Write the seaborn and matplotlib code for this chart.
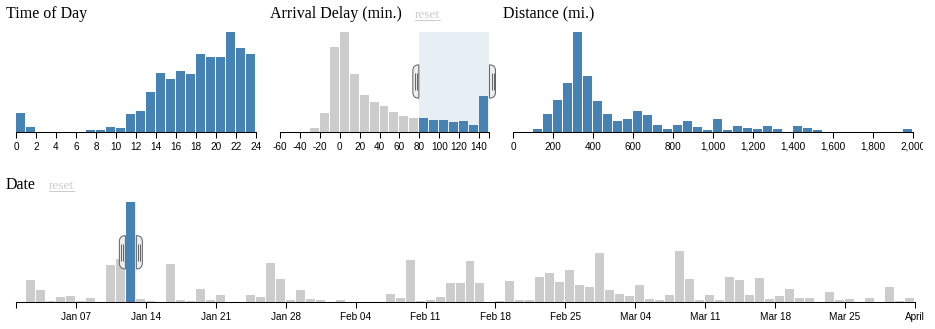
import numpy as np
import pandas as pd
import matplotlib
matplotlib.use("Agg")
import matplotlib.pyplot as plt
import matplotlib.dates as mdates
import seaborn as sns
from matplotlib.path import Path
from matplotlib.patches import PathPatch, Rectangle
from matplotlib.transforms import IdentityTransform, Bbox
from matplotlib.lines import Line2D

# ---------------- data ----------------
tod_hours = list(range(24))
tod_counts = [18.7, 4.7, 0, 0, 0, 0, 0, 1.3, 1.3, 4.7, 3.3, 17.3, 20.7, 39.7,
              58.7, 52.3, 60.3, 57.3, 77.7, 74.3, 74.3, 100, 84, 77.7]
tod_ticks = list(range(0, 25, 2))

delay_bins = list(range(-60, 150, 10))
delay_counts = [0, 0, 0, 3.3, 18.7, 84.7, 100, 57.3, 36.3, 29.7, 26, 19.3, 16,
                13.3, 13.7, 11.7, 11.7, 9.3, 10.3, 7, 35.3]
delay_ticks = list(range(-60, 141, 20))
delay_brush = (80, 150)

distance_bins = list(range(0, 2000, 50))
distance_counts = [0, 0, 2.3, 18, 31.3, 48.7, 100, 56, 30.3, 18, 10.3, 12.7,
                   20.7, 16.3, 6.7, 2.3, 6.7, 10.3, 5, 1.7, 12.7, 1.7, 5.3, 3.7,
                   2.7, 5.3, 2.7, 0, 5.3, 3.7, 1.7, 0, 0, 0, 0, 0, 0, 0, 0, 2.3]
distance_ticks = list(range(0, 2001, 200))
distance_tick_labels = ["0", "200", "400", "600", "800", "1,000", "1,200",
                        "1,400", "1,600", "1,800", "2,000"]

date_start = "2001-01-01"
date_end = "2001-04-01"
date_counts = [
    # January
    0, 22.3, 12.3, 1.3, 5.7, 6.3, 1.7, 4, 0.5, 37.7, 43.7, 100, 3, 1.7, 0, 38,
    2.7, 1.7, 13.3, 2.7, 7.3, 0, 0, 7.3, 5, 39, 23.3, 2, 12.3, 3.7, 2.3,
    # February
    0, 2.3, 0, 0, 0, 0, 8, 4.3, 42, 1.3, 2, 5, 19.7, 19.7, 41.3, 19.7, 0, 1,
    21.3, 2.7, 2.7, 25.3, 29.3, 20.7, 32.7, 17.3, 15.3, 49,
    # March
    12.3, 8.7, 6.3, 17, 3.7, 2.7, 7, 51.7, 23.7, 2.3, 7, 2.7, 25.3, 22.7, 7.3,
    24.3, 3.7, 6.7, 13.3, 4, 4.3, 0, 10.3, 2.7, 3.3, 0, 4.3, 0, 15.3, 1, 4.3,
]
date_tick_dates = ["2001-01-07", "2001-01-14", "2001-01-21", "2001-01-28",
                   "2001-02-04", "2001-02-11", "2001-02-18", "2001-02-25",
                   "2001-03-04", "2001-03-11", "2001-03-18", "2001-03-25",
                   "2001-04-01"]
date_tick_labels = ["Jan 07", "Jan 14", "Jan 21", "Jan 28", "Feb 04", "Feb 11",
                    "Feb 18", "Feb 25", "Mar 04", "Mar 11", "Mar 18", "Mar 25",
                    "April"]
date_brush = ("2001-01-12", "2001-01-13")

# ---------------- style ----------------
BLUE = "#4682b4"
GRAY = "#cccccc"
W, H = 935, 329
sns.set_style("white")
plt.rcParams["font.family"] = ["Liberation Sans", "DejaVu Sans"]

fig = plt.figure(figsize=(W / 100, H / 100), dpi=100)


def add_ax(left, top, width, height):
    return fig.add_axes([left / W, 1 - (top + height) / H, width / W, height / H])


def hist(ax, keys, counts, binw, selected, xlim):
    df = pd.DataFrame({
        "x": np.asarray(keys, dtype=float) + 0.45 * binw,
        "y": counts,
        "state": ["fg" if s else "bg" for s in selected],
    })
    sns.barplot(data=df, x="x", y="y", hue="state",
                palette={"fg": BLUE, "bg": GRAY}, native_scale=True,
                width=0.9, dodge=False, legend=False, errorbar=None,
                saturation=1, linewidth=0, ax=ax)
    ax.set_xlim(*xlim)
    ax.set_ylim(0, max(counts))
    for s in ["top", "left", "right"]:
        ax.spines[s].set_visible(False)
    ax.spines["bottom"].set_linewidth(0.75)
    ax.spines["bottom"].set_color("black")
    ax.set_yticks([])
    ax.set_xlabel("")
    ax.set_ylabel("")
    ax.patch.set_alpha(0)
    ax.tick_params(axis="x", which="both", length=4.32, width=0.75, pad=3,
                   labelsize=7.2, color="black", labelcolor="black",
                   direction="out", bottom=True)


def brush(ax, x0, x1):
    ymax = ax.get_ylim()[1]
    ax.add_patch(Rectangle((x0, 0), x1 - x0, ymax, facecolor=BLUE,
                           alpha=0.125, linewidth=0, zorder=3))
    top = ax.transAxes.transform((0, 1))[1]
    bot = ax.transAxes.transform((0, 0))[1]
    h = top - bot
    yt, yb = top - h / 3, top - 2 * h / 3
    for xd, s in ((x0, -1), (x1, 1)):
        xe = ax.transData.transform((xd, 0))[0]
        verts = [(xe + s * 0.5, yt), (xe + s * 6.5, yt), (xe + s * 6.5, yt - 6),
                 (xe + s * 6.5, yb + 6), (xe + s * 6.5, yb), (xe + s * 0.5, yb),
                 (xe + s * 0.5, yt)]
        codes = [Path.MOVETO, Path.CURVE3, Path.CURVE3, Path.LINETO,
                 Path.CURVE3, Path.CURVE3, Path.CLOSEPOLY]
        ax.add_artist(PathPatch(Path(verts, codes), transform=IdentityTransform(),
                                facecolor="#eeeeee", edgecolor="#666666",
                                linewidth=0.75, zorder=4, clip_on=False))
        lines = [(xe + s * 2.5, yt - 8), (xe + s * 2.5, yb + 8),
                 (xe + s * 4.5, yt - 8), (xe + s * 4.5, yb + 8)]
        lcodes = [Path.MOVETO, Path.LINETO, Path.MOVETO, Path.LINETO]
        ax.add_artist(PathPatch(Path(lines, lcodes), transform=IdentityTransform(),
                                fill=False, edgecolor="#666666", linewidth=0.75,
                                zorder=5, clip_on=False))


# Time of day
ax1 = add_ax(16, 31.5, 240, 100)
hist(ax1, tod_hours, tod_counts, 1, [True] * len(tod_hours), (0, 24))
ax1.set_xticks(tod_ticks)
ax1.set_xticklabels([str(t) for t in tod_ticks])

# Arrival delay
ax2 = add_ax(280, 31.5, 209, 100)
sel2 = [delay_brush[0] <= k < delay_brush[1] for k in delay_bins]
hist(ax2, delay_bins, delay_counts, 10, sel2, (-60, 150))
ax2.set_xticks(delay_ticks)
ax2.set_xticklabels([str(t) for t in delay_ticks])
ax2.set_xticks([150], minor=True)
brush(ax2, *delay_brush)

# Distance
ax3 = add_ax(513, 31.5, 400, 100)
hist(ax3, distance_bins, distance_counts, 50, [True] * len(distance_bins), (0, 2000))
ax3.set_xticks(distance_ticks)
ax3.set_xticklabels(distance_tick_labels)
clip = Bbox([[0, 0], [923, H]])
for t in ax3.xaxis.get_major_ticks()[-1:]:
    t.label1.set_clip_on(True)
    t.label1.set_clip_box(clip)

# Date
ax4 = add_ax(16, 202.3, 899, 100)
days = pd.date_range(date_start, periods=len(date_counts), freq="D")
day_nums = mdates.date2num(days.to_pydatetime())
b0 = mdates.date2num(pd.Timestamp(date_brush[0]).to_pydatetime())
b1 = mdates.date2num(pd.Timestamp(date_brush[1]).to_pydatetime())
sel4 = [b0 <= d < b1 for d in day_nums]
x_start = mdates.date2num(pd.Timestamp(date_start).to_pydatetime())
x_end = mdates.date2num(pd.Timestamp(date_end).to_pydatetime())
hist(ax4, day_nums, date_counts, 1, sel4, (x_start, x_end))
ax4.set_xticks(mdates.date2num([pd.Timestamp(d).to_pydatetime() for d in date_tick_dates]))
ax4.set_xticklabels(date_tick_labels)
ax4.set_xticks([x_start], minor=True)
brush(ax4, b0, b1)

# ---------------- titles ----------------
serif = ["Liberation Serif", "DejaVu Serif"]


def ftext(x, y, s, **kw):
    return fig.text(x / W, 1 - y / H, s, va="baseline", ha="left", **kw)


ftext(6, 18.5, "Time of Day", fontsize=11.5, family=serif, color="black")
ftext(270, 18.5, "Arrival Delay (min.)", fontsize=11.5, family=serif, color="black")
ftext(503, 18.5, "Distance (mi.)", fontsize=11.5, family=serif, color="black")
ftext(6, 189, "Date", fontsize=11.5, family=serif, color="black")
r1 = ftext(415, 18.5, "reset", fontsize=9.6, family=serif, color="#cccccc")
r2 = ftext(49, 189, "reset", fontsize=9.6, family=serif, color="#cccccc")

renderer = fig.canvas.get_renderer()
for r, yb in ((r1, 18.5), (r2, 189)):
    bb = r.get_window_extent(renderer)
    yy = H - yb - 1.5
    fig.add_artist(Line2D([bb.x0, bb.x1], [yy, yy], transform=IdentityTransform(),
                          color="#cccccc", linewidth=0.75))

fig.savefig("out.png", dpi=100)
